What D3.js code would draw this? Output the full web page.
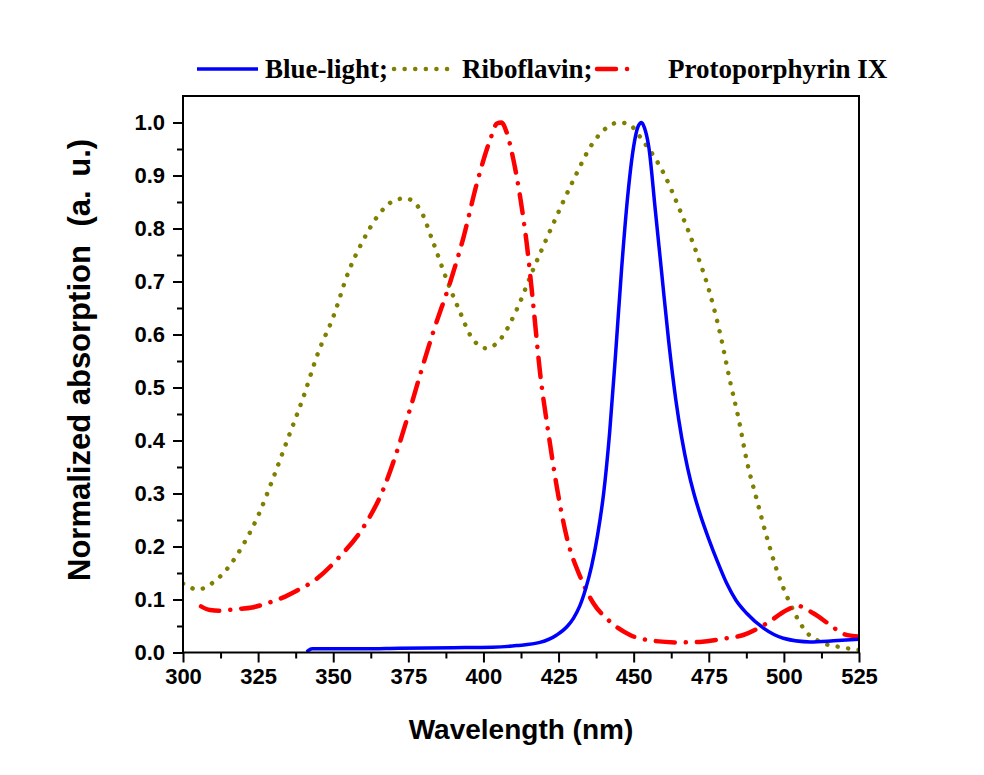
<!DOCTYPE html>
<html>
<head>
<title>absorption spectra</title>
<script src="https://d3js.org/d3.v7.min.js"></script>
<style>
body { margin: 0; background: #fff; }
.tick text { font-family: "Liberation Sans", Arial, sans-serif; font-weight: bold; font-size: 22px; fill: #000; }
.tick line { stroke: #000; stroke-width: 2; }
.title { font-family: "Liberation Sans", Arial, sans-serif; font-weight: bold; fill: #000; }
.legend { font-family: "Liberation Serif", "Times New Roman", serif; font-weight: bold; font-size: 27px; fill: #000; }
</style>
</head>
<body>
<svg class="chart"></svg>
<script>
// wavelength (nm), normalized absorption
var blueLight = [[341.5,0.003],[343,0.007],[350,0.007],[360,0.007],[372,0.008],[390,0.009],[403,0.01],[411,0.013],
    [418.8,0.019],[424.4,0.033],[428,0.05],[430,0.065],[432,0.087],[434,0.12],[436,0.163],[438,0.222],[440,0.3],
    [442,0.415],[444,0.565],[446,0.725],[448,0.86],[450,0.955],[451.5,0.993],[452.6,1.0],[453.6,0.99],[455,0.955],
    [457.2,0.835],[459.4,0.712],[461.6,0.59],[464,0.478],[466,0.405],[468,0.347],[470,0.301],[472,0.263],[475,0.214],
    [478,0.17],[481,0.13],[484,0.099],[487.6,0.074],[493.2,0.046],[499.8,0.027],[508.7,0.02],[516.5,0.022],[525,0.025]];

var riboflavin = [[300,0.13],[305,0.119],[310,0.132],[315,0.16],[320,0.203],[325,0.258],[330,0.329],[335,0.405],
    [340,0.481],[345,0.566],[350,0.633],[355,0.717],[360,0.778],[365,0.825],[370,0.852],[374,0.857],[379,0.835],
    [383,0.778],[388,0.7],[392,0.645],[396,0.595],[401,0.574],[405.5,0.59],[411,0.646],[416.5,0.722],[423,0.806],
    [430,0.892],[436.5,0.962],[441,0.99],[445,1.0],[448,0.998],[453,0.966],[460,0.904],[465,0.84],[471,0.753],
    [475,0.685],[479,0.596],[482,0.514],[485,0.439],[487.6,0.363],[491,0.288],[494.3,0.218],[497.6,0.156],
    [502,0.093],[507,0.042],[513,0.018],[519,0.01],[525,0.005]];

var protoporphyrin = [[306,0.087],[309,0.08],[312,0.079],[318,0.082],[323,0.085],[328,0.093],[333,0.103],[338,0.117],
    [344,0.137],[352,0.18],[360,0.236],[366.6,0.307],[371,0.376],[375.5,0.458],[379.5,0.535],[383.3,0.605],
    [389,0.7],[393.3,0.782],[397.8,0.885],[402.2,0.967],[404.5,0.998],[406,1.0],[407.5,0.985],[410,0.929],
    [412.2,0.86],[414.4,0.772],[416.6,0.655],[418.8,0.53],[421.6,0.415],[424.4,0.313],[427.7,0.218],[432.2,0.143],
    [436.6,0.093],[441.6,0.061],[448.8,0.033],[456.6,0.022],[465,0.019],[472,0.02],[481,0.027],[486.5,0.033],
    [494.3,0.055],[501,0.08],[504.5,0.088],[509.8,0.074],[515.4,0.052],[519.8,0.035],[525,0.03]];

var xTicks = [300,325,350,375,400,425,450,475,500,525];
var yTicks = [0,0.1,0.2,0.3,0.4,0.5,0.6,0.7,0.8,0.9,1.0];
var seriesNames = ["Blue-light;", "Riboflavin;", "Protoporphyrin IX"];

var svgWidth = 984, svgHeight = 775;
var margin = {top: 96, right: 125, bottom: 122.5, left: 183};
var width = svgWidth - margin.left - margin.right;
var height = svgHeight - margin.top - margin.bottom;

var xScale = d3.scaleLinear().domain([300,525]).range([0,width]);
var yScale = d3.scaleLinear().domain([0,1.05]).range([height,0]);

var svg = d3.select(".chart").attr("width",svgWidth).attr("height",svgHeight);
var chart = svg.append("g").attr("transform","translate(" + margin.left + "," + margin.top + ")");

chart.append("clipPath").attr("id","clip")
    .append("rect").attr("width",width).attr("height",height);

// minor ticks
var xMinor = d3.range(312.5,525,25);
var yMinor = d3.range(0.05,1.05,0.1);
chart.append("g").attr("transform","translate(0," + height + ")")
    .call(d3.axisBottom(xScale).tickValues(xMinor).tickSize(6).tickFormat(""))
    .call(g => g.select(".domain").remove());
chart.append("g")
    .call(d3.axisLeft(yScale).tickValues(yMinor).tickSize(6).tickFormat(""))
    .call(g => g.select(".domain").remove());

// major ticks
chart.append("g").attr("transform","translate(0," + height + ")")
    .call(d3.axisBottom(xScale).tickValues(xTicks).tickSize(10).tickPadding(6).tickFormat(d3.format("d")))
    .call(g => g.select(".domain").remove());
chart.append("g")
    .call(d3.axisLeft(yScale).tickValues(yTicks).tickSize(10).tickPadding(8).tickFormat(d3.format(".1f")))
    .call(g => g.select(".domain").remove());

var line = d3.line()
    .x(d => xScale(d[0]))
    .y(d => yScale(d[1]))
    .curve(d3.curveMonotoneX);

var styles = [
    {data: blueLight, color: "#0000ff", width: 3.5, dash: null},
    {data: riboflavin, color: "#808000", width: 4.5, dash: "0.1 10.5"},
    {data: protoporphyrin, color: "#ff0000", width: 4.5, dash: "19 11 0.1 11"}
];

var plot = chart.append("g").attr("clip-path","url(#clip)");
[styles[1], styles[2], styles[0]].forEach(function(s) {
    plot.append("path")
        .datum(s.data)
        .attr("fill","none")
        .attr("stroke",s.color)
        .attr("stroke-width",s.width)
        .attr("stroke-linecap","round")
        .attr("stroke-linejoin","round")
        .attr("stroke-dasharray",s.dash)
        .attr("d",line);
});

// frame
chart.append("rect")
    .attr("width",width).attr("height",height)
    .attr("fill","none").attr("stroke","#000").attr("stroke-width",2);

// axis titles
svg.append("text").attr("class","title")
    .attr("x",521).attr("y",739)
    .attr("text-anchor","middle").style("font-size","28px")
    .text("Wavelength (nm)");
var yTitle = svg.append("text").attr("class","title")
    .attr("transform","translate(90,581) rotate(-90)")
    .attr("text-anchor","start").style("font-size","31px");
yTitle.append("tspan").text("Normalized absorption ");
yTitle.append("tspan").attr("dx",10).text("(a. ");
yTitle.append("tspan").attr("dx",5).text("u.)");

// legend
var legendItems = [
    {x1: 197, x2: 258, tx: 265},
    {x1: 394, x2: 456, tx: 462},
    {x1: 597, x2: 631, tx: 668}
];
var legend = svg.append("g").attr("transform","translate(0,69)");
legendItems.forEach(function(item, i) {
    var s = styles[i];
    legend.append("line")
        .attr("x1",item.x1).attr("x2",item.x2)
        .attr("stroke",s.color)
        .attr("stroke-width",s.width)
        .attr("stroke-linecap", s.dash ? "round" : "butt")
        .attr("stroke-dasharray",s.dash);
    legend.append("text").attr("class","legend")
        .attr("x",item.tx).attr("y",9)
        .text(seriesNames[i]);
});
</script>
</body>
</html>
